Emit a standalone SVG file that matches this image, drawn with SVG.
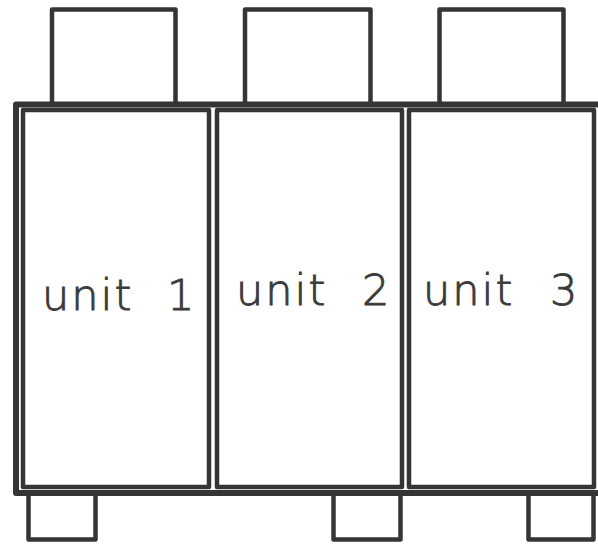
<svg xmlns="http://www.w3.org/2000/svg" width="598" height="544" viewBox="0 0 598 544">
<style>
.ln{fill:#fff;stroke:#353535;stroke-width:4.5;stroke-linejoin:round}
.fr{fill:#fff;stroke:#353535;stroke-width:6;stroke-linejoin:round}
.lb{font-family:"DejaVu Sans",sans-serif;font-size:43px;font-weight:200;fill:#3a3a3a;stroke:#3a3a3a;stroke-width:0.9;letter-spacing:2px}
</style>
<rect width="598" height="544" fill="#fff"/>
<g id="top-boxes">
<rect id="top1" class="ln" x="52" y="9.5" width="123.5" height="96"/>
<rect id="top2" class="ln" x="245" y="9.5" width="125.5" height="96"/>
<rect id="top3" class="ln" x="439.5" y="9.5" width="124" height="96"/>
</g>
<g id="bottom-boxes">
<rect id="bot1" class="ln" x="28.5" y="490" width="67" height="49.5"/>
<rect id="bot2" class="ln" x="333.5" y="490" width="67" height="49.5"/>
<rect id="bot3" class="ln" x="528.5" y="490" width="65" height="49.5"/>
</g>
<g id="frame">
<rect class="fr" x="16" y="104.5" width="590" height="388.5"/>
</g>
<g id="unit1">
<rect class="ln" x="23" y="110" width="186" height="377"/>
<text class="lb" x="42" y="310">unit</text>
<text class="lb" x="167" y="310">1</text>
</g>
<g id="unit2">
<rect class="ln" x="217" y="110" width="185" height="377"/>
<text class="lb" x="236" y="305">unit</text>
<text class="lb" x="362" y="305">2</text>
</g>
<g id="unit3">
<rect class="ln" x="409" y="110" width="185" height="377"/>
<text class="lb" x="423" y="305">unit</text>
<text class="lb" x="550" y="305">3</text>
</g>
</svg>
